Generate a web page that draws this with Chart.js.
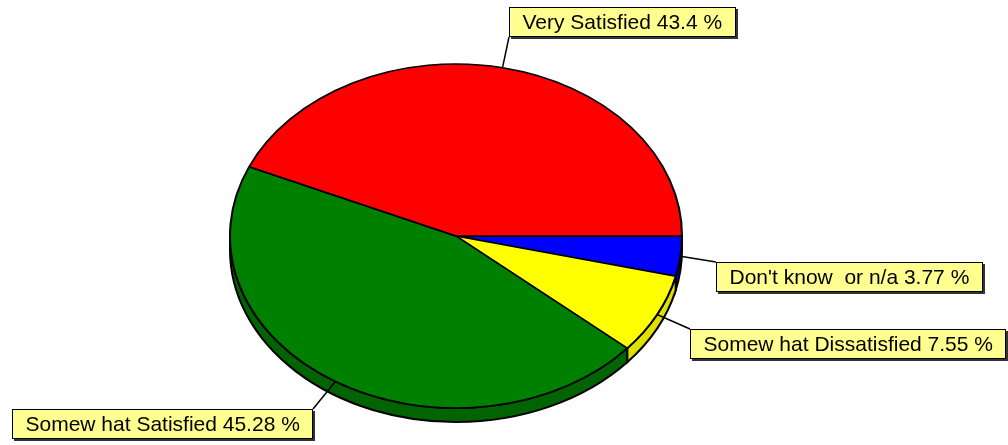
<!DOCTYPE html>
<html>
<head>
<meta charset="utf-8">
<script src="https://cdn.jsdelivr.net/npm/chart.js@4/dist/chart.umd.min.js"></script>
<style>
    html, body { margin: 0; padding: 0; background: #fff; }
    canvas { display: block; }
</style>
</head>
<body>
<canvas id="myChart1" width="1008" height="445"></canvas>
<script>
// slices, clockwise from 3 o'clock
var categories = ["Don't know  or n/a", 'Somew hat Dissatisfied', 'Somew hat Satisfied', 'Very Satisfied'];
var percents = [3.77, 7.55, 45.28, 43.4];

var topColors = ['#0000ff', '#ffff00', '#008000', '#ff0000'];
var sideColors = ['#0000b0', '#e0e000', '#006400', '#b00000'];

// tilted pie geometry on the page
var CX = 456, CY = 236, RX = 226, RY = 172, DEPTH = 14;
// top-left corner of each label box
var labelBoxes = [[716, 262], [690, 329], [12, 409], [509, 7]];

var tiltPie = {
    id: 'tiltPie',
    beforeDatasetsDraw: function (chart) {
        var ctx = chart.ctx;
        var arcs = chart.getDatasetMeta(0).data;

        // side wall, only the front half shows
        ctx.save();
        ctx.lineWidth = 2;
        ctx.strokeStyle = '#000';
        arcs.forEach(function (arc, i) {
            var s = Math.max(arc.startAngle, 0);
            var e = Math.min(arc.endAngle, Math.PI);
            if (e <= s) return;
            ctx.beginPath();
            ctx.ellipse(CX, CY, RX, RY, 0, s, e);
            ctx.ellipse(CX, CY + DEPTH, RX, RY, 0, e, s, true);
            ctx.closePath();
            ctx.fillStyle = sideColors[i];
            ctx.fill();
            ctx.stroke();
        });
        ctx.restore();

        // squash the round pie into the ellipse
        var a = arcs[0];
        ctx.save();
        ctx.translate(CX, CY);
        ctx.scale(RX / a.outerRadius, RY / a.outerRadius);
        ctx.translate(-a.x, -a.y);
    },
    afterDatasetsDraw: function (chart) {
        chart.ctx.restore();
    },
    afterDraw: function (chart) {
        var ctx = chart.ctx;
        var arcs = chart.getDatasetMeta(0).data;
        ctx.save();
        ctx.font = '21px Arial, "Liberation Sans", sans-serif';
        ctx.textBaseline = 'alphabetic';
        arcs.forEach(function (arc, i) {
            var text = categories[i] + ' ' + percents[i] + ' %';
            var mid = (arc.startAngle + arc.endAngle) / 2;
            var px = CX + RX * Math.cos(mid);
            var py = CY + RY * Math.sin(mid);
            var bx = labelBoxes[i][0], by = labelBoxes[i][1];
            var bw = Math.round(ctx.measureText(text).width + 27), bh = 30;

            // leader goes to the nearest box corner
            var corners = [[bx, by], [bx + bw, by], [bx, by + bh], [bx + bw, by + bh]];
            var best = corners[0], bestD = 1e9;
            corners.forEach(function (c) {
                var d = Math.hypot(c[0] - px, c[1] - py);
                if (d < bestD) { bestD = d; best = c; }
            });
            ctx.beginPath();
            ctx.moveTo(px, py);
            ctx.lineTo(best[0], best[1]);
            ctx.lineWidth = 1.5;
            ctx.strokeStyle = '#000';
            ctx.stroke();

            ctx.fillStyle = '#333';
            ctx.fillRect(bx + 2, by + 2, bw, bh);
            ctx.fillStyle = '#ffff90';
            ctx.fillRect(bx, by, bw, bh);
            ctx.lineWidth = 1;
            ctx.strokeRect(bx + 0.5, by + 0.5, bw - 1, bh - 1);

            ctx.fillStyle = '#000';
            ctx.fillText(text, bx + 13.5, by + 22);
        });
        ctx.restore();
    }
};

var ctx = document.getElementById('myChart1').getContext('2d');
var myPieChart = new Chart(ctx, {
    type: 'pie',
    data: {
        labels: categories,
        datasets: [{
            data: percents,
            backgroundColor: topColors,
            borderColor: '#000',
            borderWidth: 2,
            clip: false
        }]
    },
    options: {
        responsive: false,
        devicePixelRatio: 1,
        animation: false,
        rotation: 90,
        plugins: {
            legend: { display: false },
            tooltip: { enabled: false }
        }
    },
    plugins: [tiltPie]
});
</script>
</body>
</html>
